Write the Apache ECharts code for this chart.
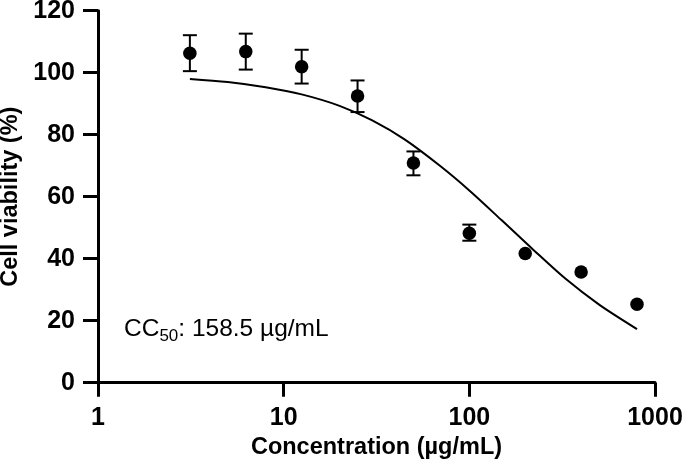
<!DOCTYPE html>
<html>
<head>
<meta charset="utf-8">
<script src="https://cdn.jsdelivr.net/npm/echarts@6/dist/echarts.min.js"></script>
<style>html,body{margin:0;padding:0;background:#fff;}#c{width:685px;height:467px;}</style>
</head>
<body>
<div id="c"></div>
<script>
var concentrations = [3.125, 6.25, 12.5, 25, 50, 100, 200, 400, 800];
var viability = [106.3, 106.8, 101.9, 92.5, 70.9, 48.2, 41.7, 35.7, 25.3];
var errLow = [100.5, 101.0, 96.5, 87.3, 66.9, 45.8, null, null, null];
var errHigh = [112.1, 112.6, 107.4, 97.5, 74.6, 51.0, null, null, null];
var curveX = [3.125, 5, 8, 12.5, 20, 30, 45, 70, 100, 150, 220, 330, 500, 800];
var curveY = [98.0, 97.0, 95.3, 93.0, 89.3, 84.6, 78.4, 69.8, 62.0, 52.3, 43.0, 33.5, 25.2, 17.3];
var xTicks = [1, 10, 100, 1000];
var yTicks = [0, 20, 40, 60, 80, 100, 120];

var font = '"Liberation Sans", Arial, Helvetica, sans-serif';
var chart = echarts.init(document.getElementById('c'), null, {renderer: 'canvas'});

var pts = concentrations.map(function (c, i) { return [c, viability[i]]; });
var errs = [];
concentrations.forEach(function (c, i) {
  if (errLow[i] != null) errs.push([c, errLow[i], errHigh[i]]);
});
var curve = curveX.map(function (x, i) { return [x, curveY[i]]; });

var axisStyle = {color: '#000', width: 3};
chart.setOption({
  animation: false,
  backgroundColor: '#fff',
  grid: {left: 98, right: 30, top: 10.7, bottom: 84.3, containLabel: false, outerBoundsMode: 'none'},
  xAxis: {
    type: 'log', logBase: 10, min: xTicks[0], max: xTicks[xTicks.length - 1],
    name: 'Concentration (µg/mL)', nameLocation: 'middle', nameGap: 53,
    nameTextStyle: {fontFamily: font, fontWeight: 'bold', fontSize: 23.5, color: '#000'},
    axisLine: {lineStyle: axisStyle},
    axisTick: {show: true, length: 14, inside: false, lineStyle: axisStyle},
    minorTick: {show: false},
    splitLine: {show: false},
    axisLabel: {fontFamily: font, fontWeight: 'bold', fontSize: 25, color: '#000', margin: 23,
      formatter: function (v) { return String(Math.round(v)); }}
  },
  yAxis: {
    type: 'value', min: yTicks[0], max: yTicks[yTicks.length - 1], interval: 20,
    name: 'Cell viability (%)', nameLocation: 'middle', nameGap: 73,
    nameTextStyle: {fontFamily: font, fontWeight: 'bold', fontSize: 23.5, color: '#000'},
    axisLine: {show: true, lineStyle: axisStyle},
    axisTick: {show: true, length: 15, inside: false, lineStyle: axisStyle},
    splitLine: {show: false},
    axisLabel: {fontFamily: font, fontWeight: 'bold', fontSize: 25, color: '#000', margin: 23}
  },
  graphic: [{
    type: 'text', left: 124, top: 317, z: 10,
    style: {
      rich: {
        a: {fontFamily: font, fontSize: 24.5, fill: '#000'},
        b: {fontFamily: font, fontSize: 17, fill: '#000', padding: [13, 0, 0, 0]}
      },
      text: '{a|CC}{b|50}{a|: 158.5 µg/mL}'
    }
  }],
  series: [
    {
      type: 'line', data: curve, smooth: 0.3, showSymbol: false, symbol: 'none',
      lineStyle: {color: '#000', width: 2}, z: 2, silent: true
    },
    {
      type: 'custom', data: errs, z: 3, silent: true,
      renderItem: function (params, api) {
        var x = api.value(0);
        var lo = api.coord([x, api.value(1)]);
        var hi = api.coord([x, api.value(2)]);
        var hw = 7;
        var st = {stroke: '#000', lineWidth: 2};
        return {type: 'group', children: [
          {type: 'line', shape: {x1: lo[0], y1: lo[1], x2: hi[0], y2: hi[1]}, style: st},
          {type: 'line', shape: {x1: lo[0] - hw, y1: lo[1], x2: lo[0] + hw, y2: lo[1]}, style: st},
          {type: 'line', shape: {x1: hi[0] - hw, y1: hi[1], x2: hi[0] + hw, y2: hi[1]}, style: st}
        ]};
      }
    },
    {
      type: 'scatter', data: pts, symbol: 'circle', symbolSize: 13.5,
      itemStyle: {color: '#000', opacity: 1}, z: 4, silent: true
    }
  ]
});
</script>
</body>
</html>
